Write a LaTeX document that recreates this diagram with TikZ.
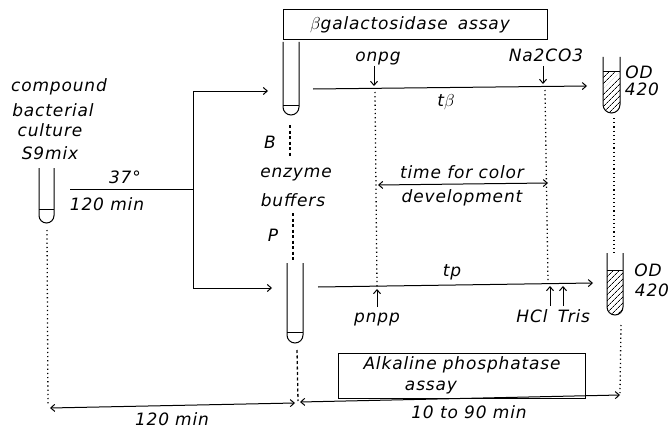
\documentclass[tikz,border=0pt]{standalone}
\usepackage{fontspec}
\setmainfont{DejaVu Sans}[LetterSpace=5]
\usetikzlibrary{arrows.meta,patterns.meta}
\newcommand\mytube[6]{% x1,x2,top,bottom,liquid,hatch(0/1)
  \pgfmathsetmacro\tr{(#2-#1)/2}
  \ifnum#6=1
    \fill[pattern={Lines[angle=45,distance=4pt,line width=0.7pt]}] (#1,#5) -- (#1,#4-\tr) arc[start angle=180,end angle=360,radius=\tr pt] -- (#2,#5) -- cycle;
  \fi
  \draw[tubeline] (#1,#3) -- (#1,#4-\tr) arc[start angle=180,end angle=360,radius=\tr pt] -- (#2,#3);
  \draw[tubeline] (#1,#5) -- (#2,#5);
}
\begin{document}
\begin{tikzpicture}[x=1pt,y=-1pt,
  every node/.style={font=\fontsize{17}{19}\selectfont\itshape, inner sep=0pt},
  ln/.style={line width=1pt},
  tubeline/.style={line width=1pt},
  arr/.style={ln,-{Straight Barb[length=4pt,width=7pt]}},
  darr/.style={ln,{Straight Barb[length=4pt,width=7pt]}-{Straight Barb[length=4pt,width=7pt]}},
  dotline/.style={line width=1.3pt,dash pattern=on 1.2pt off 3pt},
  dashline/.style={line width=1.3pt,dash pattern=on 3pt off 2.5pt},
  boxed/.style={draw,line width=1pt}]
\useasboundingbox (0,0) rectangle (672,428);

% tubes
\mytube{39}{54}{168}{223}{209}{0}
\mytube{283}{299}{42}{115}{105}{0}
\mytube{287}{303}{263}{343}{332}{0}
\mytube{603}{620}{57}{113}{72}{1}
\mytube{607}{623}{253}{315}{270}{1}

% boxes
\node[boxed, minimum width=264pt, minimum height=30pt] (gbox) at (415,25) {};
\node (gtxt) at (410,25) {$\beta$galactosidase\hspace{10pt}assay};
\node[boxed, minimum width=247pt, minimum height=45pt] (abox) at (461.5,375.5) {};
\node (atxt1) at (462,365) {Alkaline\hspace{6pt}phosphatase};
\node (atxt2) at (431,388) {assay};

% left texts
\node (compound) at (59,87) {compound};
\node[anchor=base, text depth=0pt] (bact) at (53,116) {bacterial};
\node[anchor=base, text height=9pt] (cult) at (50,136) {culture};
\node (s9) at (50,153) {S9mix};
\node (t37) at (125,177) {37°};
\node (m120) at (107,204) {120 min};

\node (B) at (270,142) {B};
\node (enz) at (296,175) {enzyme};
\node (buf) at (293,200) {buffers};
\node (P) at (273,235) {P};

\node[anchor=base] (onpg) at (378,62) {onpg};
\node[anchor=base] (na) at (546,62) {Na2CO3};
\node (tb) at (446,102) {t$\beta$};
\node (tp) at (452,272) {tp};
\node (tfc) at (462,172) {time for color};
\node (dev) at (462,198) {development};
\node (od1) at (639,72) {OD};
\node (n4201) at (642,89) {420};
\node (od2) at (648,270) {OD};
\node (n4202) at (652,290) {420};
\node[anchor=base] (pnpp) at (377,322) {pnpp};
\node[anchor=base] (hcl) at (532,322) {HCl};
\node[anchor=base] (tris) at (574,322) {Tris};
\node (m120b) at (172,419) {120\hspace{6pt}min};
\node (m1090) at (469,412) {10 to 90 min};

% coordinates
\coordinate (h0) at (70,189);
\coordinate (hj) at (193,189);
\coordinate (vt) at (193,91);
\coordinate (vb) at (193,288);
\coordinate (inB) at (268,91);
\coordinate (inP) at (272,288);
\coordinate (tl0) at (313,89);
\coordinate (tl1) at (587,86);
\coordinate (bl0) at (318,287);
\coordinate (bl1) at (593,283);
\coordinate (onpgT) at (374,86);
\coordinate (onpgS) at (374,66);
\coordinate (naT) at (543,84);
\coordinate (naS) at (543,66);
\coordinate (pnppT) at (377,289);
\coordinate (pnppS) at (377,307);
\coordinate (hclT) at (550,286);
\coordinate (hclS) at (550,306);
\coordinate (trisT) at (563,286);
\coordinate (trisS) at (563,306);
\coordinate (d1a) at (375,92);
\coordinate (d1b) at (377,287);
\coordinate (d2a) at (545,90);
\coordinate (d2b) at (548,282);
\coordinate (tca) at (378,185);
\coordinate (tcb) at (548,183);
\coordinate (Bd0) at (290,125);
\coordinate (Bd1) at (290,157);
\coordinate (Pd0) at (293,213);
\coordinate (Pd1) at (293,260);
\coordinate (Ld0) at (47,230);
\coordinate (Ld1) at (48,405);
\coordinate (Md0) at (297,350);
\coordinate (Md1) at (298,401);
\coordinate (R1a) at (614,118);
\coordinate (R1b) at (614,253);
\coordinate (R2a) at (621,325);
\coordinate (R2b) at (620,393);
\coordinate (a1) at (50,408);
\coordinate (a2) at (295,403);
\coordinate (a3) at (300,402);
\coordinate (a4) at (620,395);

% connectors
\draw[ln] (h0) -- (hj);
\draw[arr] (hj) -- (vt) -- (inB);
\draw[arr] (hj) -- (vb) -- (inP);
\draw[arr] (tl0) -- (tl1);
\draw[arr] (bl0) -- (bl1);
\draw[arr] (onpgS) -- (onpgT);
\draw[arr] (naS) -- (naT);
\draw[arr] (pnppS) -- (pnppT);
\draw[arr] (hclS) -- (hclT);
\draw[arr] (trisS) -- (trisT);
\draw[darr] (tca) -- (tcb);
\draw[darr] (a1) -- (a2);
\draw[darr] (a3) -- (a4);

\draw[dotline] (d1a) -- (d1b);
\draw[dotline] (d2a) -- (d2b);
\draw[dashline] (Bd0) -- (Bd1);
\draw[dashline] (Pd0) -- (Pd1);
\draw[dotline] (Ld0) -- (Ld1);
\draw[dashline] (Md0) -- (Md1);
\draw[dotline] (R1a) -- (R1b);
\draw[dotline] (R2a) -- (R2b);
\end{tikzpicture}
\end{document}
